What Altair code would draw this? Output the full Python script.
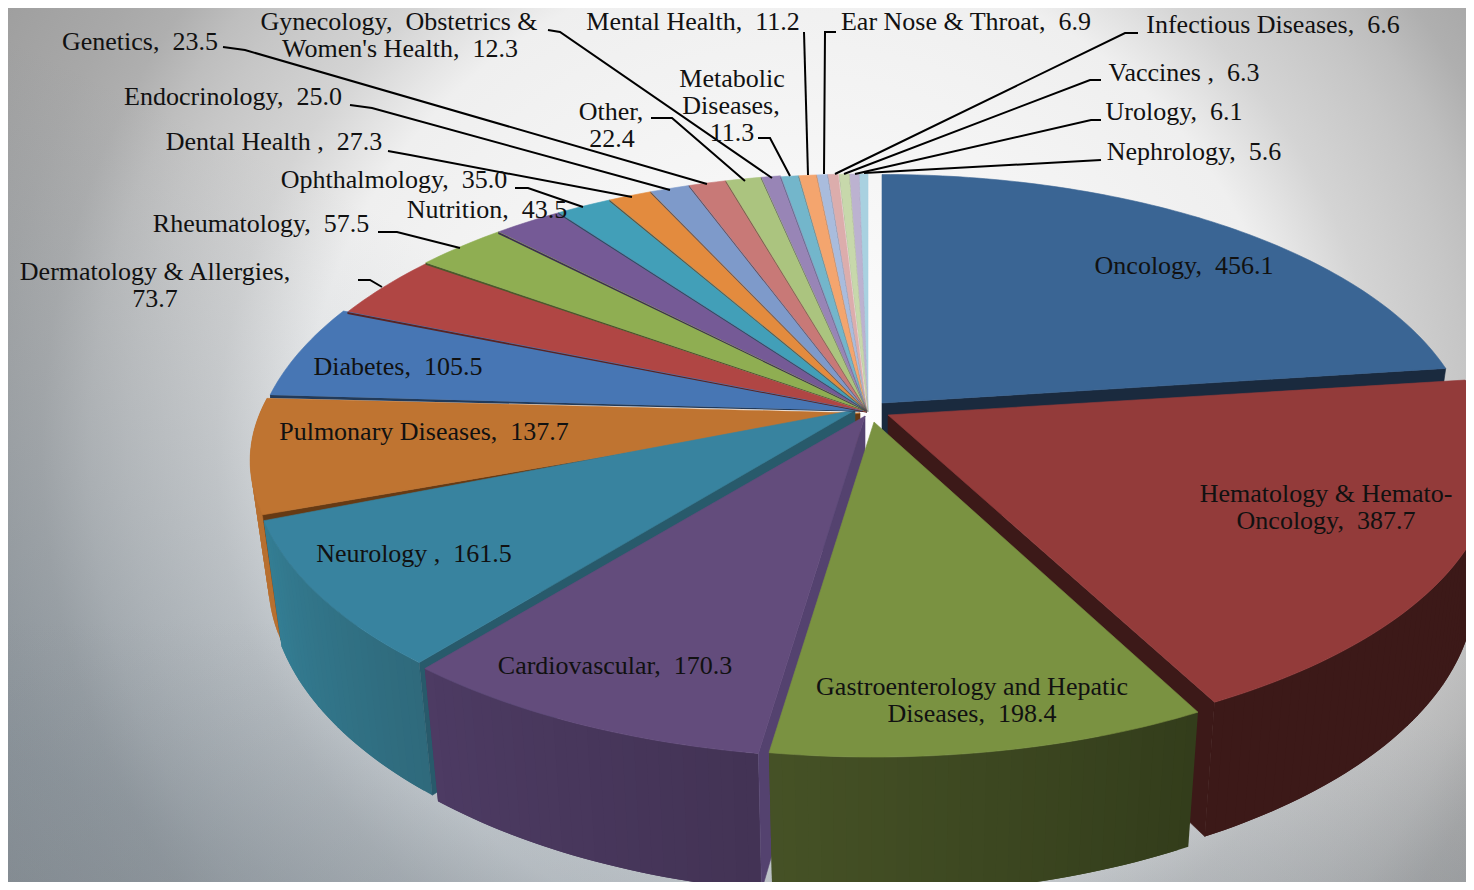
import math
import altair as alt

W, H = 1458, 874
OFF = 8

CATEGORIES = ["Oncology", "Hematology & Hemato-Oncology", "Gastroenterology and Hepatic Diseases",
              "Cardiovascular", "Neurology", "Pulmonary Diseases", "Diabetes", "Dermatology & Allergies",
              "Rheumatology", "Nutrition", "Ophthalmology", "Dental Health", "Endocrinology", "Genetics",
              "Other", "Gynecology, Obstetrics & Women's Health", "Metabolic Diseases", "Mental Health",
              "Ear Nose & Throat", "Infectious Diseases", "Vaccines", "Urology", "Nephrology"]
VALUES = [456.1, 387.7, 198.4, 170.3, 161.5, 137.7, 105.5, 73.7, 57.5, 43.5, 35.0, 27.3, 25.0, 23.5,
          22.4, 12.3, 11.3, 11.2, 6.9, 6.6, 6.3, 6.1, 5.6]
TOP_COLORS = ["#3A6594", "#933B3A", "#7A9241", "#634C7C", "#38839F", "#BF7431", "#4776B4", "#B04644",
              "#8FAE52", "#755A96", "#429FB8", "#E38B3E", "#7E9ACA", "#C87977", "#ABC47F", "#9885B6",
              "#73B6CB", "#F4A56E", "#A9BCDD", "#DCADAC", "#C7D8AB", "#BCB2D0", "#A9D1E0"]
SIDE_COLORS = ["#1A2A3E", "#3C1918", "#333D1B", "#54426F", "#285A6B", "#663A14", "#213A5A", "#5A2322",
               "#4A5A2A", "#3C2E50", "#22525F", "#754720", "#414F68", "#673E3D", "#586541", "#4E445E",
               "#3B5E69", "#7E5539", "#576172", "#715958", "#667058", "#60596C", "#576C73"]
RIM_START = {1: "#3C1918", 2: "#333D1B", 3: "#433355", 4: "#2F6A7C", 5: "#B87030"}
RIM_END = {1: "#3C1918", 2: "#465226", 3: "#4D3B63", 4: "#347E94", 5: "#B87030"}

APEX = [(882, 403), (888, 415), (874, 422), (865, 416), (855, 410), (860, 413), (863, 411), (867, 412),
        (867, 411), (867, 411), (867, 411), (867, 411), (867, 411), (867, 411), (867, 411), (867, 411),
        (867, 412), (867, 412), (867, 412), (867, 412), (868, 412), (868, 412), (868, 412)]
SCALE_X = [0.97, 0.993, 0.985, 1.0, 0.99] + [1.0] * 18
SCALE_Y = [0.96, 0.97, 0.98, 1.0, 1.0, 0.92] + [1.0] * 17

# Perspective of the tilted disc
A, B, P = 600.0, 280.7, 0.179
DEPTH, BOT_X, BOT_Y = 120.0, 0.97, 1.05
STEP = 1.0

LABEL_LINES = [
    ("Oncology,  456.1", 1184, 266), ("Hematology & Hemato-", 1326, 494), ("Oncology,  387.7", 1326, 521),
    ("Gastroenterology and Hepatic", 972, 687), ("Diseases,  198.4", 972, 714),
    ("Cardiovascular,  170.3", 615, 666), ("Neurology ,  161.5", 414, 554),
    ("Pulmonary Diseases,  137.7", 424, 432), ("Diabetes,  105.5", 398, 367),
    ("Dermatology & Allergies,", 155, 272), ("73.7", 155, 299), ("Rheumatology,  57.5", 261, 224),
    ("Nutrition,  43.5", 487, 210), ("Ophthalmology,  35.0", 394, 180), ("Dental Health ,  27.3", 274, 142),
    ("Endocrinology,  25.0", 233, 97), ("Genetics,  23.5", 140, 42), ("Gynecology,  Obstetrics &", 399, 22),
    ("Women's Health,  12.3", 400, 49), ("Other,", 611, 112), ("22.4", 612, 139), ("Metabolic", 732, 79),
    ("Diseases,", 731, 106), ("11.3", 732, 133), ("Mental Health,  11.2", 693, 22),
    ("Ear Nose & Throat,  6.9", 966, 22), ("Infectious Diseases,  6.6", 1273, 25), ("Vaccines ,  6.3", 1184, 73),
    ("Urology,  6.1", 1174, 112), ("Nephrology,  5.6", 1194, 152),
]
LEADERS = [
    [(223, 47), (245, 50), (707, 184)], [(548, 30), (560, 32), (772, 178)], [(651, 118), (672, 118), (745, 181)],
    [(758, 138), (770, 138), (790, 176)], [(804, 32), (808, 175)], [(836, 32), (825, 32), (824, 174)],
    [(1138, 33), (1125, 33), (835, 174)], [(1101, 80), (1090, 80), (844, 174)], [(1101, 120), (1091, 120), (855, 174)],
    [(1101, 160), (864, 173)], [(350, 105), (372, 108), (670, 190)], [(388, 151), (410, 155), (632, 197)],
    [(515, 188), (528, 188), (583, 207)], [(378, 232), (397, 232), (460, 248)], [(358, 280), (370, 280), (382, 287)],
]


def rim_top(i, deg):
    t = math.radians(deg)
    s = 1.0 / (1.0 + P * math.cos(t))
    ax, ay = APEX[i]
    return ax + A * SCALE_X[i] * math.sin(t) * s, ay - B * SCALE_Y[i] * math.cos(t) * s


def rim_bottom(i, deg):
    x, y = rim_top(i, deg)
    ax, ay = APEX[i]
    return ax + (x - ax) * BOT_X, ay + (y - ay) * BOT_Y + DEPTH


def mix(c1, c2, f):
    a = [int(c1[k:k + 2], 16) for k in (1, 3, 5)]
    b = [int(c2[k:k + 2], 16) for k in (1, 3, 5)]
    return "#%02x%02x%02x" % tuple(round(u + (v - u) * f) for u, v in zip(a, b))


def poly(points, color, sw=0.6):
    ring = [list(p) for p in points]
    ring.append(ring[0])
    return {"type": "Feature", "geometry": {"type": "Polygon", "coordinates": [ring]},
            "properties": {"fill": color, "sw": sw}}


total = sum(VALUES)
spans = []
c = 0.0
for v in VALUES:
    spans.append((c / total * 360.0, (c + v) / total * 360.0))
    c += v

order = sorted(range(len(VALUES)), key=lambda i: -math.cos(math.radians(sum(spans[i]) / 2)))
features = []
for i in order:
    a0, a1 = spans[i]
    ax, ay = APEX[i]
    n = max(1, int((a1 - a0) / STEP))
    angles = [a0 + (a1 - a0) * k / n for k in range(n + 1)]
    # outer wall, in overlapping strips so that it can shade along the rim
    if i in RIM_START:
        for k in range(n):
            d0, d1 = angles[k], angles[min(k + 2, n)]
            col = mix(RIM_START[i], RIM_END[i], k / n)
            features.append(poly([rim_top(i, d0), rim_top(i, d1), rim_bottom(i, d1), rim_bottom(i, d0)], col, 0))
    # cut wall that faces the viewer
    wall = None
    if a1 <= 170:
        wall = a1
    elif 180 <= a0 < 270:
        wall = a0
    if wall is not None:
        features.append(poly([(ax, ay), rim_top(i, wall), rim_bottom(i, wall), (ax, ay + DEPTH)], SIDE_COLORS[i]))
    # top face
    features.append(poly([(ax, ay)] + [rim_top(i, d) for d in angles], TOP_COLORS[i]))

# thin shadowed cut edges of the slices at the back
for i in range(6, len(VALUES)):
    a0 = spans[i][0]
    ax, ay = APEX[i]
    rx, ry = rim_top(i, a0)
    t = 3.0 if i == 6 else (2.0 if i < 10 else 1.2)
    features.append(poly([(ax, ay), (rx, ry), (rx, ry + t), (ax, ay + 0.8)], SIDE_COLORS[i], 0))

background = alt.Chart(alt.Data(values=[{"a": 1}])).mark_rect(
    color=alt.Gradient(gradient="radial", x1=0.543, y1=0.503, r1=0, x2=0.543, y2=0.503, r2=1.0,
                       stops=[alt.GradientStop(color="#FFFFFF", offset=0),
                              alt.GradientStop(color="#EFEFEF", offset=0.34),
                              alt.GradientStop(color="#D4D4D4", offset=0.40),
                              alt.GradientStop(color="#C6C6C6", offset=0.46),
                              alt.GradientStop(color="#BEBEBE", offset=0.487),
                              alt.GradientStop(color="#AFAFAF", offset=0.52),
                              alt.GradientStop(color="#A8A8A8", offset=0.555),
                              alt.GradientStop(color="#9E9E9E", offset=0.63),
                              alt.GradientStop(color="#989898", offset=1)])
).encode(x=alt.value(0), x2=alt.value(W), y=alt.value(0), y2=alt.value(H))

shade = alt.Chart(alt.Data(values=[{"a": 1}])).mark_rect(
    color=alt.Gradient(gradient="linear", x1=0, y1=0.85, x2=0.4, y2=0.35,
                       stops=[alt.GradientStop(color="rgba(90,115,135,0.35)", offset=0),
                              alt.GradientStop(color="rgba(90,115,135,0)", offset=1)])
).encode(x=alt.value(0), x2=alt.value(W), y=alt.value(0), y2=alt.value(H))

floor = alt.Chart(alt.Data(values=[{"a": 1}])).mark_rect(
    color=alt.Gradient(gradient="linear", x1=0.5, y1=0.7, x2=0.5, y2=1.0,
                       stops=[alt.GradientStop(color="rgba(120,125,130,0)", offset=0),
                              alt.GradientStop(color="rgba(120,125,130,0.22)", offset=1)])
).encode(x=alt.value(0), x2=alt.value(W), y=alt.value(0), y2=alt.value(H))

pie = alt.Chart(alt.Data(values=features)).mark_geoshape(clip=True).encode(
    fill=alt.Fill("properties.fill:N", scale=None),
    stroke=alt.Stroke("properties.fill:N", scale=None),
    strokeWidth=alt.StrokeWidth("properties.sw:Q", scale=None),
).project(type="identity", scale=1, translate=[-OFF, -OFF])

xs = alt.Scale(domain=[0, W], range=[0, W])
ys = alt.Scale(domain=[0, H], range=[0, H])

leader_rows = []
for j, pts in enumerate(LEADERS):
    for k, (x, y) in enumerate(pts):
        leader_rows.append({"id": j, "k": k, "x": x - OFF, "y": y - OFF})
leaders = alt.Chart(alt.Data(values=leader_rows)).mark_line(color="#000000", strokeWidth=2).encode(
    x=alt.X("x:Q", scale=xs, axis=None), y=alt.Y("y:Q", scale=ys, axis=None),
    detail="id:N", order="k:Q")

text_rows = [{"t": t.replace("  ", " \u00a0"), "x": x - OFF, "y": y - OFF} for t, x, y in LABEL_LINES]
labels = alt.Chart(alt.Data(values=text_rows)).mark_text(
    font="Liberation Serif", fontSize=26, color="#111111", align="center", baseline="middle", clip=True
).encode(x=alt.X("x:Q", scale=xs, axis=None), y=alt.Y("y:Q", scale=ys, axis=None), text="t:N")

chart = alt.layer(background, shade, floor, pie, leaders, labels).properties(
    width=W, height=H, padding=0, autosize=alt.AutoSizeParams(type="none")
).configure_view(stroke=None)

chart.save("out.html", embed_options={"renderer": "svg", "actions": False})
